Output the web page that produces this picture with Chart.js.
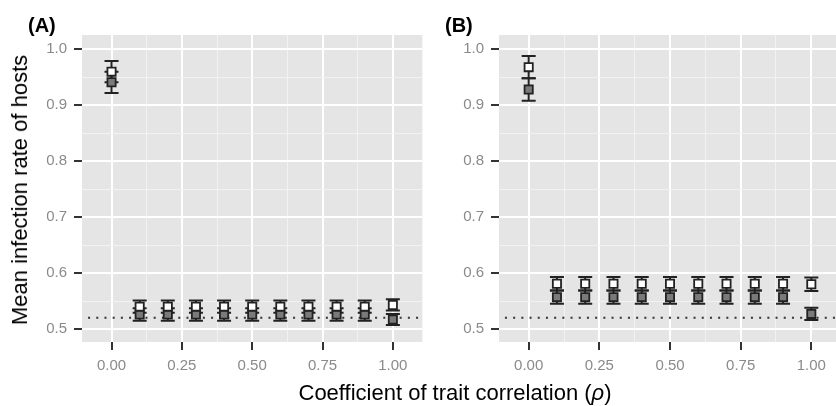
<!DOCTYPE html>
<html>
<head>
<meta charset="utf-8">
<script src="https://cdn.jsdelivr.net/npm/chart.js@4.4.1/dist/chart.umd.min.js"></script>
<style>
  body { margin: 0; width: 836px; height: 406px; overflow: hidden; background: #fff; position: relative;
         font-family: "Liberation Sans", Arial, sans-serif; }
  canvas { position: absolute; top: 0; }
  #chartA { left: 0; }
  #chartB { left: 430px; }
  .lab { position: absolute; white-space: nowrap; color: #000; line-height: 1; }
  #ytitle { left: 20px; top: 190px; font-size: 22px; transform: translate(-50%, -50%) rotate(-90deg); }
  #xtitle { left: 455px; top: 393px; font-size: 22px; transform: translate(-50%, -50%); }
  .panel { top: 15px; font-size: 20px; font-weight: bold; }
</style>
</head>
<body>
<canvas id="chartA" width="430" height="406"></canvas>
<canvas id="chartB" width="420" height="406"></canvas>
<div class="lab panel" style="left:28px">(A)</div>
<div class="lab panel" style="left:445px">(B)</div>
<div class="lab" id="ytitle">Mean infection rate of hosts</div>
<div class="lab" id="xtitle">Coefficient of trait correlation (<i>ρ</i>)</div>
<script>
// valores
const correlaciones = [0, 0.1, 0.2, 0.3, 0.4, 0.5, 0.6, 0.7, 0.8, 0.9, 1.0];

const mediaA_blanco = [0.960, 0.540, 0.540, 0.540, 0.540, 0.540, 0.540, 0.540, 0.540, 0.540, 0.543];
const errorA_blanco = [0.019, 0.011, 0.011, 0.011, 0.011, 0.011, 0.011, 0.011, 0.011, 0.011, 0.010];
const mediaA_gris   = [0.941, 0.526, 0.526, 0.526, 0.526, 0.526, 0.526, 0.526, 0.526, 0.526, 0.517];
const errorA_gris   = [0.019, 0.011, 0.011, 0.011, 0.011, 0.011, 0.011, 0.011, 0.011, 0.011, 0.010];

const mediaB_blanco = [0.968, 0.581, 0.581, 0.581, 0.581, 0.581, 0.581, 0.581, 0.581, 0.581, 0.580];
const errorB_blanco = [0.020, 0.012, 0.012, 0.012, 0.012, 0.012, 0.012, 0.012, 0.012, 0.012, 0.012];
const mediaB_gris   = [0.928, 0.557, 0.557, 0.557, 0.557, 0.557, 0.557, 0.557, 0.557, 0.557, 0.527];
const errorB_gris   = [0.020, 0.012, 0.012, 0.012, 0.012, 0.012, 0.012, 0.012, 0.012, 0.012, 0.011];

const nivelReferencia = 0.52;

const xTicks = [0, 0.25, 0.5, 0.75, 1.0];
const xTickLabels = ['0.00', '0.25', '0.50', '0.75', '1.00'];
const yTicks = [0.5, 0.6, 0.7, 0.8, 0.9, 1.0];
const yTickLabels = ['0.5', '0.6', '0.7', '0.8', '0.9', '1.0'];

// líneas menores a mitad de camino
const mitades = arr => arr.slice(1).map((v, i) => (v + arr[i]) / 2);
const xGrid = xTicks.concat(mitades(xTicks)).sort((a, b) => a - b);
const yGrid = yTicks.concat(mitades(yTicks)).sort((a, b) => a - b);
const esMayor = (lista, v) => lista.some(t => Math.abs(t - v) < 1e-9);

Chart.defaults.font.family = '"Liberation Sans", Arial, sans-serif';

const barrasError = {
  id: 'barrasError',
  beforeDatasetsDraw(chart) {
    const { ctx, scales: { x, y } } = chart;
    ctx.save();
    ctx.strokeStyle = '#222';
    ctx.lineWidth = 2;
    chart.data.datasets.forEach(ds => {
      if (!ds.errores) return;
      ds.data.forEach((p, i) => {
        const px = x.getPixelForValue(p.x);
        const arriba = y.getPixelForValue(p.y + ds.errores[i]);
        const abajo = y.getPixelForValue(p.y - ds.errores[i]);
        ctx.beginPath();
        ctx.moveTo(px, arriba); ctx.lineTo(px, abajo);
        ctx.moveTo(px - 7, arriba); ctx.lineTo(px + 7, arriba);
        ctx.moveTo(px - 7, abajo); ctx.lineTo(px + 7, abajo);
        ctx.stroke();
      });
    });
    ctx.restore();
  }
};

const fondo = {
  id: 'fondo',
  beforeDraw(chart) {
    const { ctx, chartArea: a } = chart;
    ctx.save();
    ctx.fillStyle = '#E5E5E5';
    ctx.fillRect(a.left, a.top, a.right - a.left, a.bottom - a.top);
    ctx.restore();
  }
};

function crearPanel(id, blanco, errBlanco, gris, errGris, anchoY, padDerecha) {
  const puntos = vals => correlaciones.map((c, i) => ({ x: c, y: vals[i] }));
  new Chart(document.getElementById(id), {
    type: 'scatter',
    data: {
      datasets: [
        {
          data: puntos(blanco), errores: errBlanco,
          pointStyle: 'rect', pointRadius: 5.8, borderWidth: 1.8,
          borderColor: '#222', backgroundColor: '#FFFFFF'
        },
        {
          data: puntos(gris), errores: errGris,
          pointStyle: 'rect', pointRadius: 5.8, borderWidth: 1.8,
          borderColor: '#222', backgroundColor: '#7A7A7A'
        },
        {
          type: 'line',
          data: [{ x: -0.2, y: nivelReferencia }, { x: 1.2, y: nivelReferencia }],
          borderColor: '#333', borderWidth: 2, borderDash: [2, 6.2],
          pointRadius: 0, fill: false
        }
      ]
    },
    options: {
      responsive: false,
      animation: false,
      events: [],
      layout: { padding: { top: 35, right: padDerecha, left: 0, bottom: 0 } },
      plugins: { legend: { display: false }, tooltip: { enabled: false } },
      scales: {
        x: {
          type: 'linear', min: -0.105, max: 1.105,
          afterBuildTicks: s => { s.ticks = xGrid.map(v => ({ value: v })); },
          afterFit: s => { s.height = 64; },
          border: { display: false },
          grid: {
            color: c => esMayor(xTicks, c.tick.value) ? '#FFFFFF' : '#F2F2F2',
            lineWidth: c => esMayor(xTicks, c.tick.value) ? 2 : 1,
            tickColor: c => esMayor(xTicks, c.tick.value) ? '#333' : 'rgba(0,0,0,0)',
            tickWidth: 2, tickLength: 8
          },
          ticks: {
            autoSkip: false, maxRotation: 0, padding: 7,
            color: '#8A8A8A', font: { size: 15 },
            callback: v => { const k = xTicks.findIndex(t => Math.abs(t - v) < 1e-9); return k >= 0 ? xTickLabels[k] : ''; }
          }
        },
        y: {
          type: 'linear', min: 0.4768, max: 1.0255,
          afterBuildTicks: s => { s.ticks = yGrid.map(v => ({ value: v })); },
          afterFit: s => { s.width = anchoY; },
          border: { display: false },
          grid: {
            color: c => esMayor(yTicks, c.tick.value) ? '#FFFFFF' : '#F2F2F2',
            lineWidth: c => esMayor(yTicks, c.tick.value) ? 2 : 1,
            tickColor: c => esMayor(yTicks, c.tick.value) ? '#333' : 'rgba(0,0,0,0)',
            tickWidth: 2, tickLength: 8
          },
          ticks: {
            autoSkip: false, padding: 7,
            color: '#8A8A8A', font: { size: 15 },
            callback: v => { const k = yTicks.findIndex(t => Math.abs(t - v) < 1e-9); return k >= 0 ? yTickLabels[k] : ''; }
          }
        }
      }
    },
    plugins: [fondo, barrasError]
  });
}

crearPanel('chartA', mediaA_blanco, errorA_blanco, mediaA_gris, errorA_gris, 82, 6.7);
crearPanel('chartB', mediaB_blanco, errorB_blanco, mediaB_gris, errorB_gris, 69, 9);
</script>
</body>
</html>
